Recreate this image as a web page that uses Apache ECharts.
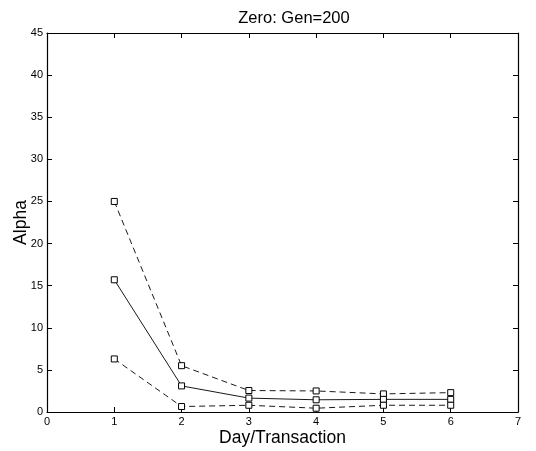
<!DOCTYPE html>
<html>
<head>
<meta charset="utf-8">
<script src="https://cdn.jsdelivr.net/npm/echarts@6/dist/echarts.min.js"></script>
<style>
  html, body { margin: 0; padding: 0; background: #fff; }
  #chart { width: 536px; height: 451px; }
</style>
</head>
<body>
<div id="chart"></div>
<script>
// Days on the x axis and the three alpha curves
const days = [1, 2, 3, 4, 5, 6];
const upperBand = [25.0, 5.5, 2.55, 2.5, 2.15, 2.3];
const meanAlpha = [15.7, 3.1, 1.65, 1.45, 1.5, 1.5];
const lowerBand = [6.3, 0.65, 0.8, 0.45, 0.8, 0.8];

const xTicks = [0, 1, 2, 3, 4, 5, 6, 7];
const yTicks = [0, 5, 10, 15, 20, 25, 30, 35, 40, 45];

const FONT = '"Liberation Sans", Arial, Helvetica, sans-serif';

function pairs(vals) { return days.map((d, i) => [d, vals[i]]); }

function curve(name, vals, dashed) {
  return {
    name: name,
    type: 'line',
    data: pairs(vals),
    symbol: 'rect',
    symbolSize: 6,
    showSymbol: true,
    itemStyle: { color: '#fff', borderColor: '#000', borderWidth: 1 },
    lineStyle: { color: '#000', width: 0.9, type: dashed ? [6, 4] : 'solid' },
    z: 3,
    animation: false
  };
}

const chart = echarts.init(document.getElementById('chart'), null, { renderer: 'canvas' });

const mainAxisLine = { show: true, onZero: false, lineStyle: { color: '#000', width: 1.2 } };
const tickIn = { show: true, inside: true, length: 5, lineStyle: { color: '#000', width: 1 } };

chart.setOption({
  backgroundColor: '#fff',
  animation: false,
  title: {
    text: 'Zero: Gen=200',
    left: 289, top: 5, textAlign: 'center',
    textStyle: { fontFamily: FONT, fontSize: 16.5, fontWeight: 'normal', color: '#000' }
  },
  grid: { left: 47, right: 18, top: 33, bottom: 39, containLabel: false, outerBoundsMode: 'none' },
  xAxis: [
    {
      type: 'value', position: 'bottom', min: xTicks[0], max: xTicks[xTicks.length - 1], interval: 1,
      name: 'Day/Transaction', nameLocation: 'middle', nameGap: 17, nameMoveOverlap: false,
      nameTextStyle: { fontFamily: FONT, fontSize: 17.5, color: '#000' },
      axisLine: mainAxisLine, axisTick: tickIn,
      axisLabel: { fontFamily: FONT, fontSize: 11, color: '#000', margin: 4 },
      splitLine: { show: false }
    },
    {
      type: 'value', position: 'top', min: xTicks[0], max: xTicks[xTicks.length - 1], interval: 1,
      axisLine: mainAxisLine, axisTick: tickIn, axisLabel: { show: false }, splitLine: { show: false }
    }
  ],
  yAxis: [
    {
      type: 'value', position: 'left', min: yTicks[0], max: yTicks[yTicks.length - 1], interval: 5,
      name: 'Alpha', nameLocation: 'middle', nameGap: 17, nameRotate: 90, nameMoveOverlap: false,
      nameTextStyle: { fontFamily: FONT, fontSize: 17.5, color: '#000' },
      axisLine: mainAxisLine, axisTick: tickIn,
      axisLabel: { fontFamily: FONT, fontSize: 11, color: '#000', margin: 4 },
      splitLine: { show: false }
    },
    {
      type: 'value', position: 'right', min: yTicks[0], max: yTicks[yTicks.length - 1], interval: 5,
      axisLine: mainAxisLine, axisTick: tickIn, axisLabel: { show: false }, splitLine: { show: false }
    }
  ],
  series: [
    curve('upper', upperBand, true),
    curve('mean', meanAlpha, false),
    curve('lower', lowerBand, true)
  ]
});
</script>
</body>
</html>
